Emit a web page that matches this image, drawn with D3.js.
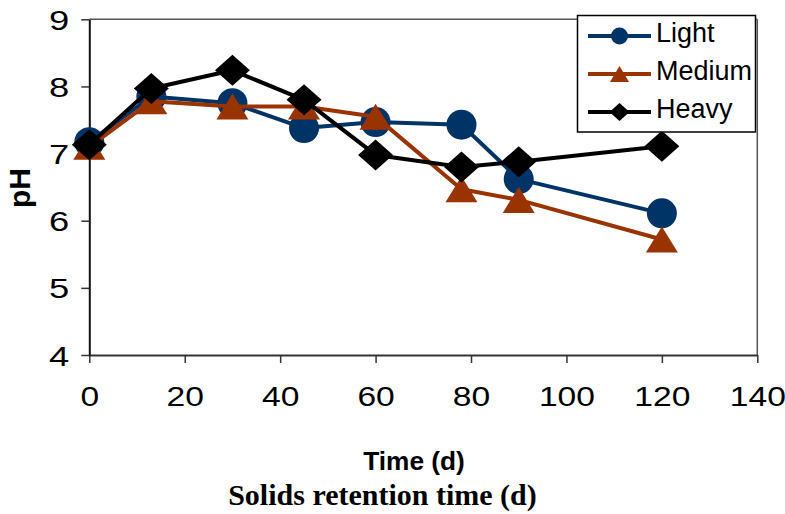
<!DOCTYPE html>
<html>
<head>
<meta charset="utf-8">
<script src="https://cdn.jsdelivr.net/npm/d3@7"></script>
<style>
  body { margin: 0; background: #fff; }
  svg { display: block; font-family: "Liberation Sans", Arial, sans-serif; }
</style>
</head>
<body>
<svg id="chart" width="785" height="514"></svg>
<script>
// ---- data ----
const times = [0, 13, 30, 45, 60, 78, 90, 120];
const lightPH = [7.17, 7.85, 7.75, 7.38, 7.47, 7.43, 6.62, 6.11];
const mediumPH = [7.10, 7.78, 7.70, 7.70, 7.55, 6.47, 6.31, 5.72];
const heavyPH = [7.13, 7.97, 8.24, 7.80, 6.98, 6.80, 6.88, 7.11];
const seriesNames = ["Light", "Medium", "Heavy"];
const xTicks = [0, 20, 40, 60, 80, 100, 120, 140];
const yTicks = [4, 5, 6, 7, 8, 9];

const series = [
  { name: seriesNames[0], values: lightPH, color: "#003366", marker: "circle" },
  { name: seriesNames[1], values: mediumPH, color: "#993300", marker: "triangle" },
  { name: seriesNames[2], values: heavyPH, color: "#000000", marker: "diamond" }
];

const SANS = "'Liberation Sans', Arial, sans-serif";
const SERIF = "'Liberation Serif', 'Times New Roman', serif";

const svg = d3.select("#chart");
const x = d3.scaleLinear().domain([0, 140]).range([89.3, 757.3]);
const y = d3.scaleLinear().domain([4, 9]).range([355, 19.3]);

// frame top/right
svg.append("line").attr("x1", x(0)).attr("x2", x(140)).attr("y1", y(9)).attr("y2", y(9))
  .attr("stroke", "#555").attr("stroke-width", 1.5);
svg.append("line").attr("x1", x(140)).attr("x2", x(140)).attr("y1", y(9)).attr("y2", y(4))
  .attr("stroke", "#555").attr("stroke-width", 1.5);

// x axis
const gx = svg.append("g").attr("transform", `translate(0,${y(4)})`)
  .call(d3.axisBottom(x).tickValues(xTicks).tickSize(8).tickSizeOuter(0).tickFormat(d3.format("d")));
gx.select(".domain").attr("stroke", "#333").attr("stroke-width", 2);
gx.selectAll(".tick line").attr("stroke", "#333").attr("stroke-width", 1.5);
gx.selectAll(".tick text").attr("y", 51.5).attr("dy", 0)
  .style("font-size", "28px").style("font-family", SANS).attr("fill", "#000")
  .attr("transform", "scale(1.2,1)");

// y axis
const gy = svg.append("g").attr("transform", `translate(${x(0)},0)`)
  .call(d3.axisLeft(y).tickValues(yTicks).tickSize(8).tickSizeOuter(0).tickFormat(d3.format("d")));
gy.select(".domain").attr("stroke", "#111").attr("stroke-width", 2);
gy.selectAll(".tick line").attr("stroke", "#333").attr("stroke-width", 1.5);
gy.selectAll(".tick text").attr("x", -15.5).attr("dy", "0.36em")
  .style("font-size", "28px").style("font-family", SANS).attr("fill", "#000")
  .attr("transform", "scale(1.3,1)");

// marker path generators (centred at bbox centre)
function markerPath(type, w, h) {
  if (type === "circle") {
    const r = w / 2;
    return `M${-r},0A${r},${r} 0 1,0 ${r},0A${r},${r} 0 1,0 ${-r},0Z`;
  }
  if (type === "triangle") {
    return `M0,${-h / 2}L${w / 2},${h / 2}L${-w / 2},${h / 2}Z`;
  }
  return `M0,${-h / 2}L${w / 2},0L0,${h / 2}L${-w / 2},0Z`;
}
const plotSize = { circle: [30, 30], triangle: [32, 26], diamond: [35, 31] };
const legSize = { circle: [17, 17], triangle: [19, 16], diamond: [20, 18] };

const line = d3.line().x(d => x(d[0])).y(d => y(d[1]));

series.forEach(s => {
  const pts = times.map((t, i) => [t, s.values[i]]);
  const g = svg.append("g");
  g.append("path").attr("d", line(pts)).attr("fill", "none")
    .attr("stroke", s.color).attr("stroke-width", 4).attr("stroke-linejoin", "round");
  const [w, h] = plotSize[s.marker];
  g.selectAll("path.m").data(pts).join("path").attr("class", "m")
    .attr("d", markerPath(s.marker, w, h))
    .attr("transform", d => `translate(${x(d[0])},${y(d[1])})`)
    .attr("fill", s.color);
});

// legend
const leg = svg.append("g");
leg.append("rect").attr("x", 577.5).attr("y", 15.5).attr("width", 178).attr("height", 116.5)
  .attr("fill", "#fff").attr("stroke", "#000").attr("stroke-width", 1.5);
series.forEach((s, i) => {
  const cy = 36 + i * 38;
  leg.append("line").attr("x1", 588).attr("x2", 651).attr("y1", cy).attr("y2", cy)
    .attr("stroke", s.color).attr("stroke-width", 4);
  const [w, h] = legSize[s.marker];
  leg.append("path").attr("d", markerPath(s.marker, w, h))
    .attr("transform", `translate(619.5,${cy})`).attr("fill", s.color);
  leg.append("text").attr("x", 656).attr("y", cy + 6)
    .style("font-size", "27px").style("font-family", SANS)
    .attr("fill", "#000").text(s.name);
});

// axis titles
svg.append("text").attr("transform", "translate(30,188) rotate(-90)")
  .attr("text-anchor", "middle").style("font-family", SANS)
  .style("font-size", "30px").style("font-weight", "bold").text("pH");
svg.append("text").attr("transform", "translate(414,470) scale(1.05,1)")
  .attr("text-anchor", "middle").style("font-family", SANS)
  .style("font-size", "25px").style("font-weight", "bold").text("Time (d)");
svg.append("text").attr("x", 382.5).attr("y", 505)
  .attr("text-anchor", "middle").style("font-family", SERIF)
  .style("font-size", "30px").style("font-weight", "bold")
  .text("Solids retention time (d)");
</script>
</body>
</html>
